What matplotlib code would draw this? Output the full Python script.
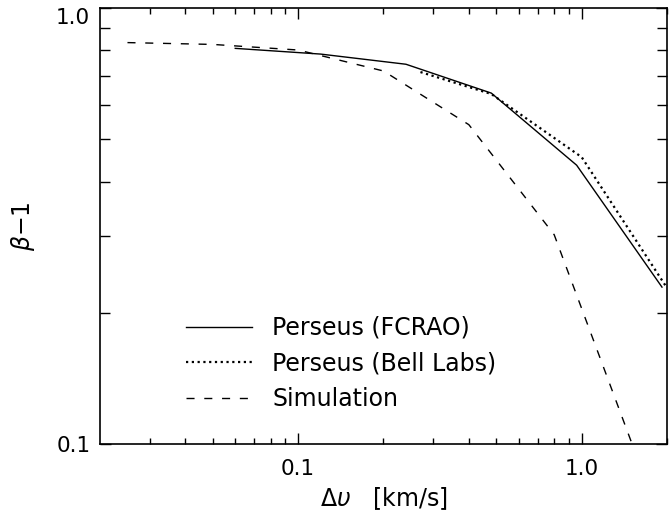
import numpy as np
import matplotlib
matplotlib.use("Agg")
import matplotlib.pyplot as plt
from matplotlib.ticker import FixedLocator, FixedFormatter, NullFormatter

# ---------------- data ----------------
fcrao_dv = [0.06, 0.12, 0.24, 0.48, 0.96, 1.92]
fcrao_beta = [0.808, 0.784, 0.743, 0.638, 0.436, 0.229]

bell_dv = [0.27, 0.48, 1.0, 2.0]
bell_beta = [0.713, 0.635, 0.455, 0.228]

sim_dv = [0.025, 0.05, 0.1, 0.2, 0.4, 0.8, 1.6]
sim_beta = [0.833, 0.825, 0.801, 0.717, 0.54, 0.302, 0.090]

labels = ["Perseus (FCRAO)", "Perseus (Bell Labs)", "Simulation"]

plt.rcParams['font.family'] = ['DejaVu Sans']

fig = plt.figure(figsize=(6.71, 5.18), dpi=100)
ax = fig.add_axes([100/671, 74/518, 567/671, 436/518])

ax.plot(fcrao_dv, fcrao_beta, color="black", lw=1.0, ls="-", label=labels[0])
ax.plot(bell_dv, bell_beta, color="black", lw=1.6, ls=(0, (1, 1.6)), label=labels[1])
ax.plot(sim_dv, sim_beta, color="black", lw=1.0, ls=(0, (5.8, 7.0)), label=labels[2])

ax.set_xscale("log")
ax.set_yscale("log")
ax.set_xlim(0.02, 2.0)
ax.set_ylim(0.1, 1.0)

ax.xaxis.set_major_locator(FixedLocator([0.1, 1.0]))
ax.xaxis.set_major_formatter(FixedFormatter(["0.1", "1.0"]))
ax.xaxis.set_minor_locator(FixedLocator([0.03, 0.04, 0.05, 0.06, 0.07, 0.08, 0.09,
                                         0.2, 0.3, 0.4, 0.5, 0.6, 0.7, 0.8, 0.9, 2.0]))
ax.xaxis.set_minor_formatter(NullFormatter())
ax.yaxis.set_major_locator(FixedLocator([0.1, 1.0]))
ax.yaxis.set_major_formatter(FixedFormatter(["0.1", "1.0"]))
ax.yaxis.set_minor_locator(FixedLocator([0.2, 0.3, 0.4, 0.5, 0.6, 0.7, 0.8, 0.9]))
ax.yaxis.set_minor_formatter(NullFormatter())

ax.tick_params(which="both", direction="in", top=True, right=True, width=1.0,
               labelsize=15.5)
ax.tick_params(axis="x", which="major", length=8, pad=11)
ax.tick_params(axis="x", which="minor", length=4.5)
ax.tick_params(axis="y", which="major", length=8, pad=7)
ax.tick_params(axis="y", which="minor", length=7)
for s in ax.spines.values():
    s.set_linewidth(1.2)

# IDL puts the top y label a bit below the tick
for lbl in ax.get_yticklabels():
    if lbl.get_text() == "1.0":
        lbl.set_va("top")

ax.set_xlabel(r"$\Delta\upsilon$   [km/s]", fontsize=17, labelpad=4)
ax.set_ylabel(r"$\beta$$-$1", fontsize=17, labelpad=14)

ax.legend(loc="upper left", bbox_to_anchor=(0.152, 0.294), frameon=False,
          fontsize=17, handlelength=2.8, handletextpad=0.85, labelspacing=0.49,
          borderpad=0, borderaxespad=0)

plt.savefig("out.png", dpi=100)
plt.close()
